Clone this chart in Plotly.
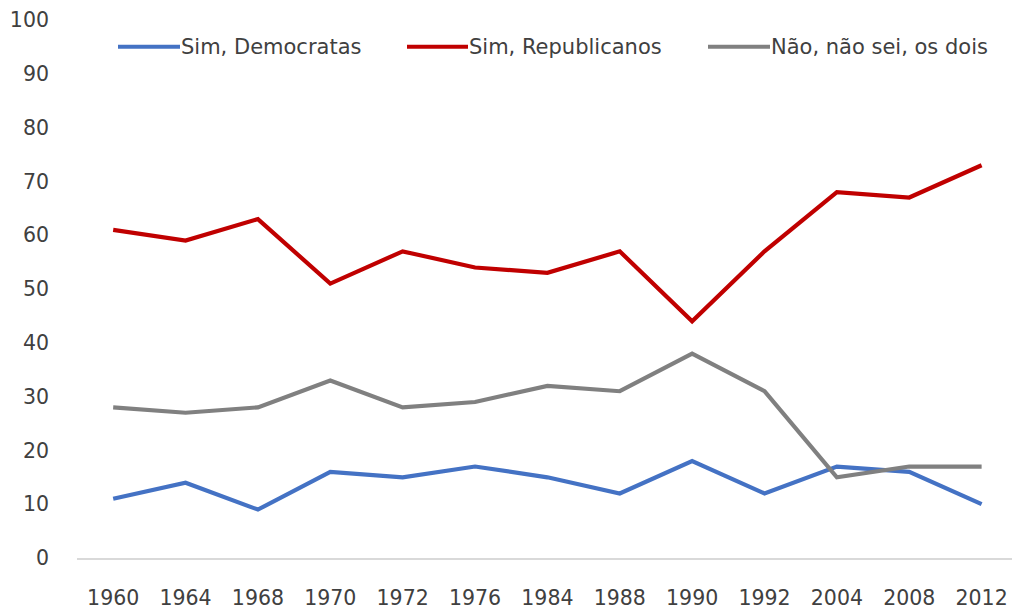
import plotly.graph_objects as go

# Survey years (evenly spaced categories)
years = ["1960", "1964", "1968", "1970", "1972", "1976", "1984",
         "1988", "1990", "1992", "2004", "2008", "2012"]

democratas = [11, 14, 9, 16, 15, 17, 15, 12, 18, 12, 17, 16, 10]
republicanos = [61, 59, 63, 51, 57, 54, 53, 57, 44, 57, 68, 67, 73]
nao_sei = [28, 27, 28, 33, 28, 29, 32, 31, 38, 31, 15, 17, 17]

series_names = ["Sim, Democratas", "Sim, Republicanos", "Não, não sei, os dois"]
series_values = [democratas, republicanos, nao_sei]
series_colors = ["#4472C4", "#C00000", "#808080"]

y_ticks = list(range(0, 101, 10))

FONT = "DejaVu Sans"
TEXT_COLOR = "#404040"
TICK_SIZE = 20.5
LEGEND_SIZE = 21

W, H = 1012, 610
M_L, M_R, M_T, M_B = 77, 0, 20, 47
plot_w = W - M_L - M_R
plot_h = H - M_T - M_B

fig = go.Figure()
for name, vals, col in zip(series_names, series_values, series_colors):
    fig.add_trace(go.Scatter(
        x=years, y=vals, name=name, mode="lines",
        line=dict(color=col, width=4.2), showlegend=False,
    ))

# Legend row drawn along the top of the plot area
legend_items = [(118, 180), (407, 468), (708, 770)]
legend_y_px = 47


def px_x(px):
    return (px - M_L) / plot_w


def px_y(py):
    return (H - M_B - py) / plot_h


shapes = []
annotations = []
for (x0, x1), name, col in zip(legend_items, series_names, series_colors):
    shapes.append(dict(
        type="line", xref="paper", yref="paper",
        x0=px_x(x0), x1=px_x(x1), y0=px_y(legend_y_px), y1=px_y(legend_y_px),
        line=dict(color=col, width=4.2),
    ))
    annotations.append(dict(
        xref="paper", yref="paper", x=px_x(x1 - 1), y=px_y(legend_y_px),
        xanchor="left", yanchor="middle", showarrow=False, text=name,
        font=dict(family=FONT, size=LEGEND_SIZE, color=TEXT_COLOR),
    ))

fig.update_layout(
    width=W, height=H,
    margin=dict(l=M_L, r=M_R, t=M_T, b=M_B),
    paper_bgcolor="white", plot_bgcolor="white",
    shapes=shapes, annotations=annotations,
    font=dict(family=FONT, size=TICK_SIZE, color=TEXT_COLOR),
)
fig.update_xaxes(
    type="category", range=[-0.5, 12.42],
    showgrid=False, zeroline=False,
    showline=True, linecolor="#D9D9D9", linewidth=1.5,
    ticks="", ticklabelstandoff=21,
    tickfont=dict(family=FONT, size=TICK_SIZE, color=TEXT_COLOR),
)
fig.update_yaxes(
    range=[0, 100], tickvals=y_ticks,
    showgrid=False, zeroline=False, showline=False,
    ticks="", ticklabelstandoff=27,
    tickfont=dict(family=FONT, size=TICK_SIZE, color=TEXT_COLOR),
)

fig.write_html("out.html")
